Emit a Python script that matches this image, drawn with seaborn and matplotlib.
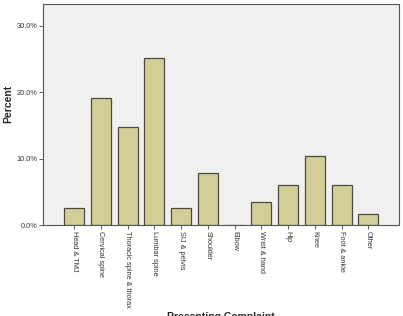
import pandas as pd
import seaborn as sns
import matplotlib.pyplot as plt
from matplotlib.ticker import FuncFormatter

# Data (percent of cases)
complaints = ["Head & TMJ", "Cervical spine", "Thoracic spine & thorax", "Lumbar spine",
              "SIJ & pelvis", "Shoulder", "Elbow", "Wrist & hand", "Hip", "Knee",
              "Foot & ankle", "Other"]
percents = [2.6, 19.1, 14.8, 25.2, 2.6, 7.8, 0.0, 3.5, 6.1, 10.4, 6.1, 1.7]

df = pd.DataFrame({"Presenting Complaint": complaints, "Percent": percents})

sns.set_style("ticks")
plt.rcParams['font.family'] = ['Liberation Sans', 'DejaVu Sans']

fig = plt.figure(figsize=(4.03, 3.16), dpi=100)
ax = fig.add_axes([43 / 403, 1 - 225 / 316, 356 / 403, 221 / 316])

sns.barplot(
    data=df,
    x="Presenting Complaint",
    y="Percent",
    color="#d3ce97",
    edgecolor="#4a4a40",
    linewidth=0.9,
    width=0.75,
    saturation=1,
    ax=ax
)

ax.set_facecolor("#f0f0f0")
ax.set_xlim(-1.17, 12.15)
ax.set_ylim(0, 33.3)
ax.set_yticks([0, 10, 20, 30])
ax.yaxis.set_major_formatter(FuncFormatter(lambda v, p: f"{v:.1f}%"))

for s in ax.spines.values():
    s.set_visible(True)
    s.set_color("#555555")
    s.set_linewidth(0.8)

ax.tick_params(axis="both", length=3, width=0.6, color="#444444",
               labelsize=5.3, labelcolor="#333333", pad=1)
ax.set_xticks(range(len(complaints)))
ax.set_xticklabels(complaints, rotation=270, va="top", ha="center")

ax.set_xlabel("Presenting Complaint", fontsize=7.5, fontweight="bold", va="top")
ax.xaxis.set_label_coords(0.5, -0.394)
ax.set_ylabel("Percent", fontsize=7.5, fontweight="bold", va="center")
ax.yaxis.set_label_coords(-0.098, 0.547)

fig.savefig("out.png", dpi=100)
